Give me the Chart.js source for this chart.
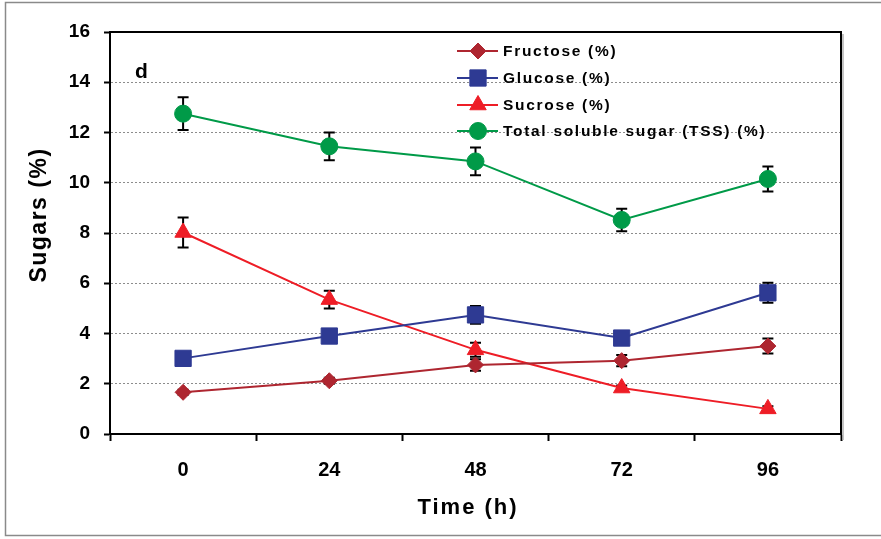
<!DOCTYPE html>
<html>
<head>
<meta charset="utf-8">
<script src="https://cdn.jsdelivr.net/npm/chart.js@4"></script>
<style>
html,body{margin:0;padding:0;background:#fff;}
#wrap{width:881px;height:539px;position:relative;}
</style>
</head>
<body>
<div id="wrap"><canvas id="c" width="881" height="539"></canvas></div>
<script>
const categories = ['0', '24', '48', '72', '96'];
const fructose = [1.66, 2.12, 2.75, 2.92, 3.5];
const fructoseErr = [0.1, 0.12, 0.23, 0.22, 0.3];
const glucose = [3.01, 3.9, 4.74, 3.82, 5.62];
const glucoseErr = [0.1, 0.15, 0.35, 0.1, 0.4];
const sucrose = [8.02, 5.35, 3.35, 1.83, 1.0];
const sucroseErr = [0.6, 0.35, 0.28, 0.1, 0.1];
const tss = [12.75, 11.45, 10.85, 8.52, 10.15];
const tssErr = [0.65, 0.55, 0.55, 0.45, 0.5];
const yTicks = [0, 2, 4, 6, 8, 10, 12, 14, 16];
const seriesNames = ['Fructose (%)', 'Glucose (%)', 'Sucrose (%)', 'Total soluble sugar (TSS) (%)'];

const COLORS = ['#AE2630', '#2E3A93', '#EE1D26', '#009A48'];
const STYLES = ['rectRot', 'rect', 'triangle', 'circle'];
const RADII = [8, 11.5, 9.5, 8.5];
const ERRS = [fructoseErr, glucoseErr, sucroseErr, tssErr];
const VALS = [fructose, glucose, sucrose, tss];

const datasets = VALS.map((v, i) => ({
  label: seriesNames[i],
  data: v,
  borderColor: COLORS[i],
  backgroundColor: COLORS[i],
  pointBackgroundColor: COLORS[i],
  pointBorderColor: COLORS[i],
  pointBorderWidth: 1,
  pointStyle: STYLES[i],
  pointRadius: RADII[i],
  borderWidth: 2,
  tension: 0,
  errors: ERRS[i]
}));

const errorBars = {
  id: 'errorBars',
  beforeDatasetsDraw(chart) {
    const ctx = chart.ctx;
    const ys = chart.scales.y;
    ctx.save();
    ctx.strokeStyle = '#000';
    ctx.lineWidth = 2;
    ctx.setLineDash([]);
    chart.data.datasets.forEach((ds, di) => {
      const meta = chart.getDatasetMeta(di);
      meta.data.forEach((pt, j) => {
        const v = ds.data[j], e = ds.errors[j];
        const x = pt.x;
        const yt = ys.getPixelForValue(v + e);
        const yb = ys.getPixelForValue(v - e);
        ctx.beginPath();
        ctx.moveTo(x, yt); ctx.lineTo(x, yb);
        ctx.moveTo(x - 5.5, yt); ctx.lineTo(x + 5.5, yt);
        ctx.moveTo(x - 5.5, yb); ctx.lineTo(x + 5.5, yb);
        ctx.stroke();
      });
    });
    ctx.restore();
  }
};

const decor = {
  id: 'decor',
  beforeDraw(chart) {
    const ctx = chart.ctx;
    ctx.save();
    ctx.fillStyle = '#fff';
    ctx.fillRect(0, 0, chart.width, chart.height);
    ctx.strokeStyle = '#8a8a8a';
    ctx.lineWidth = 1.5;
    ctx.strokeRect(5.5, 2.5, 900, 533);
    ctx.restore();
  },
  afterDraw(chart) {
    const ctx = chart.ctx;
    const a = chart.chartArea;
    ctx.save();
    ctx.setLineDash([]);
    // shadow and frame
    ctx.strokeStyle = '#b0b0b0';
    ctx.lineWidth = 1.5;
    ctx.beginPath();
    ctx.moveTo(a.right + 2, a.top + 2); ctx.lineTo(a.right + 2, a.bottom + 6);
    ctx.stroke();
    ctx.strokeStyle = '#000';
    ctx.lineWidth = 2;
    ctx.strokeRect(a.left, a.top, a.right - a.left, a.bottom - a.top);
    // panel letter
    ctx.fillStyle = '#000';
    ctx.font = 'bold 21px "Liberation Sans", Arial, sans-serif';
    ctx.textAlign = 'left';
    ctx.textBaseline = 'middle';
    ctx.fillText('d', 135, 72);
    // axis titles
    ctx.font = 'bold 22px "Liberation Sans", Arial, sans-serif';
    ctx.letterSpacing = '2px';
    ctx.textAlign = 'center';
    ctx.fillText('Time (h)', 468, 508);
    ctx.translate(40, 215);
    ctx.rotate(-Math.PI / 2);
    ctx.letterSpacing = '1.5px';
    ctx.font = 'bold 23px "Liberation Sans", Arial, sans-serif';
    ctx.fillText('Sugars (%)', 0, 0);
    ctx.restore();

    // legend
    ctx.save();
    ctx.setLineDash([]);
    const rows = [51, 78, 105, 131];
    chart.data.datasets.forEach((ds, i) => {
      const y = rows[i];
      ctx.strokeStyle = ds.borderColor;
      ctx.lineWidth = 2;
      ctx.beginPath();
      ctx.moveTo(457, y); ctx.lineTo(498, y);
      ctx.stroke();
      ctx.fillStyle = ds.backgroundColor;
      ctx.strokeStyle = ds.borderColor;
      ctx.lineWidth = 1;
      Chart.helpers.drawPoint(ctx, { pointStyle: ds.pointStyle, radius: ds.pointRadius, borderWidth: 1, rotation: 0 }, 478, y);
      ctx.fillStyle = '#000';
      ctx.font = 'bold 15.5px "Liberation Sans", Arial, sans-serif';
      ctx.letterSpacing = '1.7px';
      ctx.textAlign = 'left';
      ctx.textBaseline = 'middle';
      ctx.fillText(ds.label, 503, y + 1);
    });
    ctx.restore();
  }
};

new Chart(document.getElementById('c'), {
  type: 'line',
  data: { labels: categories, datasets },
  plugins: [decor, errorBars],
  options: {
    responsive: false,
    animation: false,
    devicePixelRatio: 1,
    layout: { padding: { top: 32, right: 40, left: 0, bottom: 0 } },
    plugins: { legend: { display: false }, tooltip: { enabled: false } },
    scales: {
      x: {
        type: 'category',
        offset: true,
        grid: { offset: true, drawOnChartArea: false, drawTicks: true, tickLength: 7, tickColor: '#000', tickWidth: 2, color: '#000', tickBorderDash: [] },
        border: { display: true, color: '#000', width: 2 },
        ticks: { color: '#000', padding: 17, font: { family: '"Liberation Sans Narrow", "Arial Narrow", "Liberation Sans", Arial', weight: 'bold', size: 20 } },
        afterFit(s) { s.height = 105; }
      },
      y: {
        min: 0, max: 16,
        afterBuildTicks(s) { s.ticks = yTicks.map(v => ({ value: v })); },
        grid: { color: '#8c8c8c', lineWidth: 1, borderDash: [2, 2], drawTicks: true, tickLength: 6, tickColor: '#000', tickWidth: 2, tickBorderDash: [] },
        border: { display: true, color: '#000', width: 2, dash: [2, 2] },
        ticks: { color: '#000', padding: 14, font: { family: '"Liberation Sans", Arial', weight: 'bold', size: 19 } },
        afterFit(s) { s.width = 110; }
      }
    }
  }
});
</script>
</body>
</html>
